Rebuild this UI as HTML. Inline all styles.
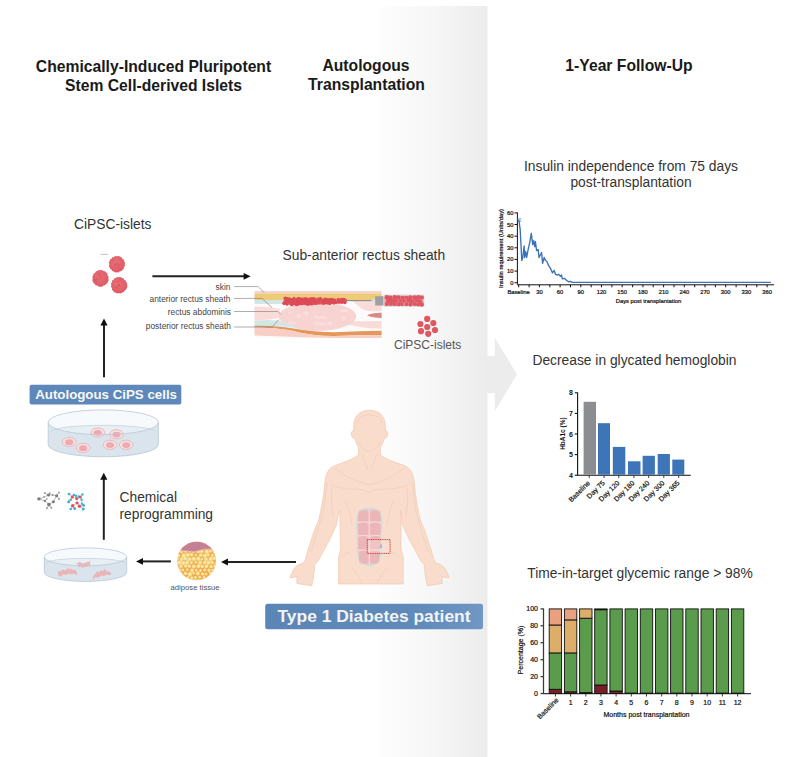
<!DOCTYPE html>
<html><head><meta charset="utf-8"><style>
html,body{margin:0;padding:0;background:#fff;width:807px;height:757px;overflow:hidden}
svg{display:block;font-family:"Liberation Sans", sans-serif}
</style></head><body>
<svg width="807" height="757" viewBox="0 0 807 757">
<defs>
<linearGradient id="bg" x1="0" x2="1" y1="0" y2="0">
<stop offset="0" stop-color="#fdfdfd"/>
<stop offset="0.4" stop-color="#f8f8f8"/>
<stop offset="1" stop-color="#ececec"/>
</linearGradient>
</defs>
<rect x="0" y="0" width="807" height="757" fill="#fff"/>
<rect x="380" y="6" width="107.5" height="751" fill="url(#bg)"/>
<path d="M487 356 H494.8 V337.8 L517 374.4 L494.8 411.2 V393 H487 Z" fill="#ececec"/>

<g font-weight="bold" font-size="15.7" fill="#1a1a1a" text-anchor="middle">
<text x="153.5" y="72.3">Chemically-Induced Pluripotent</text>
<text x="153.5" y="91">Stem Cell-derived Islets</text>
<text x="366" y="71.2">Autologous</text>
<text x="366.5" y="90">Transplantation</text>
<text x="629" y="71.2">1-Year Follow-Up</text>
</g>
<g font-size="13.8" fill="#333" text-anchor="middle">
<text x="631" y="171.4">Insulin independence from 75 days</text>
<text x="631" y="187.3">post-transplantation</text>
<text x="634.5" y="365">Decrease in glycated hemoglobin</text>
<text x="640" y="578">Time-in-target glycemic range &gt; 98%</text>
</g>
<g font-size="13.8" fill="#333">
<text x="74" y="229.1">CiPSC-islets</text>
<text x="282.5" y="260">Sub-anterior rectus sheath</text>
<text x="119.5" y="502.3">Chemical</text>
<text x="119.5" y="519">reprogramming</text>
</g>
<text x="394" y="348.8" font-size="12" fill="#555">CiPSC-islets</text>
<text x="170.5" y="590.3" font-size="7.7" fill="#555">adipose tissue</text>
<g font-size="8.4" fill="#444" text-anchor="end">
<text x="230.5" y="289.5">skin</text>
<text x="230.5" y="301.6">anterior rectus sheath</text>
<text x="231" y="314.5">rectus abdominis</text>
<text x="231" y="329.4">posterior rectus sheath</text>
</g>
<defs><linearGradient id="bx" x1="0" x2="1" y1="0" y2="0"><stop offset="0" stop-color="#5a86b7"/><stop offset="0.7" stop-color="#5f8aba"/><stop offset="1" stop-color="#7197c3"/></linearGradient></defs>
<rect x="29.6" y="384.8" width="151.7" height="19.8" rx="2" fill="#5d88b9"/>
<text x="106.1" y="399" font-size="13.3" font-weight="bold" fill="#f8f8f8" text-anchor="middle">Autologous CiPS cells</text>
<rect x="265.2" y="603.8" width="217.8" height="25.5" rx="2.5" fill="url(#bx)"/>
<text x="374" y="621.9" font-size="17.4" font-weight="bold" fill="#f4f4f4" text-anchor="middle">Type 1 Diabetes patient</text>
<line x1="104" y1="377.2" x2="104" y2="324.4" stroke="#222" stroke-width="2"/>
<path d="M104 318.4 L107.6 325.4 L100.4 325.4 Z" fill="#111"/>
<line x1="103.8" y1="539.8" x2="103.8" y2="478.8" stroke="#222" stroke-width="2"/>
<path d="M103.8 472.8 L107.39999999999999 479.8 L100.2 479.8 Z" fill="#111"/>
<line x1="152.4" y1="276.3" x2="244.6" y2="276.3" stroke="#222" stroke-width="2"/>
<path d="M250.6 276.3 L243.6 272.90000000000003 L243.6 279.7 Z" fill="#111"/>
<line x1="170.9" y1="561.4" x2="142" y2="561.4" stroke="#222" stroke-width="2"/>
<path d="M136 561.4 L143 558.0 L143 564.8 Z" fill="#111"/>
<line x1="296" y1="562" x2="227" y2="562" stroke="#222" stroke-width="2"/>
<path d="M221 562 L228 558.6 L228 565.4 Z" fill="#111"/>
<defs><radialGradient id="isl" cx="0.45" cy="0.42" r="0.6"><stop offset="0" stop-color="#e9727a"/><stop offset="1" stop-color="#dd5862"/></radialGradient></defs>
<path d="M124.66 264.20 Q125.73 265.96 123.94 267.12 Q124.39 269.20 122.57 269.87 Q121.90 271.69 119.79 271.19 Q118.66 273.03 116.90 272.13 Q115.14 273.03 113.92 271.40 Q111.90 271.69 111.56 269.54 Q109.41 269.20 109.60 267.23 Q108.07 265.96 109.37 264.20 Q108.07 262.44 109.65 261.20 Q109.41 259.20 111.55 258.85 Q111.90 256.71 114.00 257.20 Q115.14 255.37 116.90 256.36 Q118.66 255.37 120.02 256.66 Q121.90 256.71 122.28 258.82 Q124.39 259.20 124.00 261.26 Q125.73 262.44 124.66 264.20Z" fill="url(#isl)"/>
<circle cx="112.9" cy="260.1" r="0.9" fill="#d8505a" opacity="0.5"/>
<circle cx="112.2" cy="267.7" r="0.6" fill="#d8505a" opacity="0.5"/>
<circle cx="118.0" cy="262.9" r="0.7" fill="#d8505a" opacity="0.5"/>
<circle cx="118.3" cy="265.4" r="1.1" fill="#d8505a" opacity="0.5"/>
<circle cx="118.4" cy="267.4" r="1.0" fill="#d8505a" opacity="0.5"/>
<circle cx="114.6" cy="266.6" r="0.6" fill="#d8505a" opacity="0.5"/>
<circle cx="118.1" cy="264.7" r="1.0" fill="#d8505a" opacity="0.5"/>
<circle cx="115.2" cy="265.0" r="1.0" fill="#d8505a" opacity="0.5"/>
<circle cx="115.2" cy="264.7" r="1.1" fill="#d8505a" opacity="0.5"/>
<circle cx="116.4" cy="262.8" r="0.9" fill="#d8505a" opacity="0.5"/>
<path d="M108.32 278.40 Q109.23 280.16 107.97 281.54 Q107.89 283.40 106.11 284.11 Q105.40 285.89 103.36 285.54 Q102.16 287.23 100.40 286.68 Q98.64 287.23 97.49 285.42 Q95.40 285.89 94.86 283.94 Q92.91 283.40 92.91 281.50 Q91.57 280.16 92.77 278.40 Q91.57 276.64 93.11 275.38 Q92.91 273.40 95.07 273.07 Q95.40 270.91 97.33 270.98 Q98.64 269.57 100.40 270.29 Q102.16 269.57 103.45 271.05 Q105.40 270.91 106.20 272.60 Q107.89 273.40 107.56 275.43 Q109.23 276.64 108.32 278.40Z" fill="url(#isl)"/>
<circle cx="99.2" cy="275.0" r="0.9" fill="#d8505a" opacity="0.5"/>
<circle cx="95.5" cy="279.8" r="1.2" fill="#d8505a" opacity="0.5"/>
<circle cx="96.5" cy="279.0" r="0.6" fill="#d8505a" opacity="0.5"/>
<circle cx="99.2" cy="274.7" r="1.2" fill="#d8505a" opacity="0.5"/>
<circle cx="101.1" cy="276.9" r="0.8" fill="#d8505a" opacity="0.5"/>
<circle cx="100.3" cy="278.3" r="0.9" fill="#d8505a" opacity="0.5"/>
<circle cx="100.7" cy="279.0" r="0.6" fill="#d8505a" opacity="0.5"/>
<circle cx="100.5" cy="277.6" r="0.7" fill="#d8505a" opacity="0.5"/>
<circle cx="96.4" cy="281.7" r="0.6" fill="#d8505a" opacity="0.5"/>
<circle cx="97.3" cy="279.4" r="1.1" fill="#d8505a" opacity="0.5"/>
<path d="M127.15 285.20 Q127.83 286.96 126.56 288.33 Q126.49 290.20 124.46 290.66 Q124.00 292.69 122.00 292.44 Q120.76 294.03 119.00 292.99 Q117.24 294.03 115.86 292.78 Q114.00 292.69 113.16 291.04 Q111.51 290.20 111.96 288.12 Q110.17 286.96 111.36 285.20 Q110.17 283.44 111.90 282.26 Q111.51 280.20 113.56 279.76 Q114.00 277.71 115.98 277.91 Q117.24 276.37 119.00 277.23 Q120.76 276.37 121.95 278.07 Q124.00 277.71 124.31 279.89 Q126.49 280.20 126.24 282.20 Q127.83 283.44 127.15 285.20Z" fill="url(#isl)"/>
<circle cx="116.7" cy="287.7" r="1.2" fill="#d8505a" opacity="0.5"/>
<circle cx="117.9" cy="282.3" r="1.0" fill="#d8505a" opacity="0.5"/>
<circle cx="118.9" cy="284.9" r="1.1" fill="#d8505a" opacity="0.5"/>
<circle cx="120.0" cy="280.0" r="1.1" fill="#d8505a" opacity="0.5"/>
<circle cx="117.1" cy="286.7" r="0.7" fill="#d8505a" opacity="0.5"/>
<circle cx="118.8" cy="284.9" r="0.6" fill="#d8505a" opacity="0.5"/>
<circle cx="119.2" cy="286.1" r="0.8" fill="#d8505a" opacity="0.5"/>
<circle cx="119.0" cy="285.2" r="0.7" fill="#d8505a" opacity="0.5"/>
<circle cx="120.8" cy="286.5" r="0.6" fill="#d8505a" opacity="0.5"/>
<circle cx="121.6" cy="282.6" r="0.7" fill="#d8505a" opacity="0.5"/>
<line x1="100.5" y1="254.4" x2="108" y2="254.4" stroke="#999" stroke-width="0.6"/>
<circle cx="427.2" cy="318.9" r="3.1" fill="#e0585f"/>
<circle cx="420.4" cy="324" r="3.1" fill="#e0585f"/>
<circle cx="433.3" cy="323" r="3.1" fill="#e0585f"/>
<circle cx="421" cy="331.2" r="3.1" fill="#e0585f"/>
<circle cx="435" cy="330" r="3.1" fill="#e0585f"/>
<circle cx="428.2" cy="333.8" r="3.1" fill="#e0585f"/>
<circle cx="427.2" cy="327" r="3.1" fill="#e0585f"/>
<path d="M48.15 422.3 A55.1 12.4 0 0 1 158.35 422.3 V444.4 A55.1 12.4 0 0 1 48.15 444.4 Z" fill="#f7fafc"/>
<path d="M48.15 435.51 L51.25 431.7 A52 6.4 0 0 1 155.25 431.7 L158.35 435.51 V444.4 A55.1 12.4 0 0 1 48.15 444.4 Z" fill="#e7eff5"/>
<path d="M48.15 422.3 A55.1 12.4 0 0 0 158.35 422.3 V444.4 A55.1 12.4 0 0 1 48.15 444.4 Z" fill="#d9e4ed"/>
<path d="M51.25 431.7 A52 6.4 0 0 1 155.25 431.7" fill="none" stroke="#c0cfdb" stroke-width="0.7"/>
<ellipse cx="97.8" cy="432.5" rx="6.9" ry="4.6" fill="#f6e0e2" stroke="#ebb4b9" stroke-width="0.9"/><ellipse cx="97.8" cy="432.8" rx="4.1" ry="2.9" fill="#eeaab0"/><ellipse cx="116.5" cy="434.3" rx="6.9" ry="4.6" fill="#f6e0e2" stroke="#ebb4b9" stroke-width="0.9"/><ellipse cx="116.5" cy="434.6" rx="4.1" ry="2.9" fill="#eeaab0"/><ellipse cx="69.2" cy="441.9" rx="6.9" ry="4.6" fill="#f6e0e2" stroke="#ebb4b9" stroke-width="0.9"/><ellipse cx="69.2" cy="442.2" rx="4.1" ry="2.9" fill="#eeaab0"/><ellipse cx="83.1" cy="447.9" rx="6.9" ry="4.6" fill="#f6e0e2" stroke="#ebb4b9" stroke-width="0.9"/><ellipse cx="83.1" cy="448.2" rx="4.1" ry="2.9" fill="#eeaab0"/><ellipse cx="110" cy="444.8" rx="6.9" ry="4.6" fill="#f6e0e2" stroke="#ebb4b9" stroke-width="0.9"/><ellipse cx="110" cy="445.1" rx="4.1" ry="2.9" fill="#eeaab0"/><ellipse cx="126.2" cy="444.8" rx="6.9" ry="4.6" fill="#f6e0e2" stroke="#ebb4b9" stroke-width="0.9"/><ellipse cx="126.2" cy="445.1" rx="4.1" ry="2.9" fill="#eeaab0"/>
<ellipse cx="103.25" cy="422.3" rx="55.1" ry="12.4" fill="none" stroke="#b9c8d5" stroke-width="0.8"/>
<path d="M48.15 422.3 V444.4 A55.1 12.4 0 0 0 158.35 444.4 V422.3" fill="none" stroke="#b9c8d5" stroke-width="0.8"/>
<path d="M44.3 556.9 A41.2 9.0 0 0 1 126.7 556.9 V572.4 A41.2 9.0 0 0 1 44.3 572.4 Z" fill="#f7fafc"/>
<path d="M44.3 565.96 L46.0 563.2 A39.5 4.8 0 0 1 125.0 563.2 L126.7 565.96 V572.4 A41.2 9.0 0 0 1 44.3 572.4 Z" fill="#e7eff5"/>
<path d="M44.3 556.9 A41.2 9.0 0 0 0 126.7 556.9 V572.4 A41.2 9.0 0 0 1 44.3 572.4 Z" fill="#d9e4ed"/>
<path d="M46.0 563.2 A39.5 4.8 0 0 1 125.0 563.2" fill="none" stroke="#c0cfdb" stroke-width="0.7"/>
<path d="M75.6 562.4 L78 563.2 L80 561.5 L81 563 L84 563.4 L86 562.3 L88 562 L90.5 560.8 L89.8 563.5 L91.2 565.8 L88.5 565.6 L86 567.2 L84.5 566 L82.5 568.8 L81.2 566.2 L79 567.5 L78.2 565.5 Z" fill="#eeabad" opacity="0.85"/><path d="M57.8 571.8 L61 571 L63 569.4 L64.5 570.6 L67 569.6 L68.3 567.2 L69.5 569.6 L71.5 568.5 L72.5 570 L75.5 569.8 L77.8 575.2 L74 573.6 L71 574.2 L68 573.4 L66 575 L63 574.2 L61.5 576.6 L58.3 575.8 Z" fill="#eeabad" opacity="0.85"/><path d="M92.2 579.8 L93.6 575.5 L96 573.2 L97.5 571 L99 572.4 L101 570.2 L103.2 571.3 L104.6 568.6 L106 571 L108.5 571.4 L111.4 573.2 L110 575.2 L107 574.6 L104 576 L101.2 575.4 L98.4 577.5 L95.5 577.2 Z" fill="#eeabad" opacity="0.85"/>
<ellipse cx="85.5" cy="556.9" rx="41.2" ry="9.0" fill="none" stroke="#b9c8d5" stroke-width="0.8"/>
<path d="M44.3 556.9 V572.4 A41.2 9.0 0 0 0 126.7 572.4 V556.9" fill="none" stroke="#b9c8d5" stroke-width="0.8"/>
<line x1="38.9" y1="498.9" x2="44.1" y2="496.9" stroke="#999" stroke-width="0.7"/><line x1="38.9" y1="498.9" x2="44.9" y2="500.9" stroke="#999" stroke-width="0.7"/><line x1="44.1" y1="496.9" x2="48.5" y2="494.9" stroke="#999" stroke-width="0.7"/><line x1="48.5" y1="494.9" x2="44.9" y2="492.9" stroke="#999" stroke-width="0.7"/><line x1="48.5" y1="494.9" x2="49.7" y2="493.3" stroke="#999" stroke-width="0.7"/><line x1="48.5" y1="494.9" x2="52.6" y2="494.9" stroke="#999" stroke-width="0.7"/><line x1="52.6" y1="494.9" x2="56.6" y2="495.7" stroke="#999" stroke-width="0.7"/><line x1="56.6" y1="495.7" x2="59" y2="492.5" stroke="#999" stroke-width="0.7"/><line x1="56.6" y1="495.7" x2="59" y2="498.9" stroke="#999" stroke-width="0.7"/><line x1="56.6" y1="495.7" x2="53.4" y2="501.7" stroke="#999" stroke-width="0.7"/><line x1="53.4" y1="501.7" x2="48.9" y2="504.6" stroke="#999" stroke-width="0.7"/><line x1="48.9" y1="504.6" x2="44.9" y2="500.9" stroke="#999" stroke-width="0.7"/><line x1="48.9" y1="504.6" x2="46.9" y2="508.2" stroke="#999" stroke-width="0.7"/><line x1="48.9" y1="504.6" x2="51.3" y2="507.8" stroke="#999" stroke-width="0.7"/><line x1="44.9" y1="500.9" x2="46.9" y2="498.9" stroke="#999" stroke-width="0.7"/><circle cx="38.9" cy="498.9" r="1.7" fill="#7a7a7a"/><circle cx="44.9" cy="492.9" r="1.0" fill="#9a9a9a"/><circle cx="44.1" cy="496.9" r="0.9" fill="#9a9a9a"/><circle cx="44.9" cy="500.9" r="1.1" fill="#7a7a7a"/><circle cx="48.5" cy="494.9" r="1.5" fill="#7a7a7a"/><circle cx="49.7" cy="493.3" r="1.0" fill="#9a9a9a"/><circle cx="46.9" cy="498.9" r="0.8" fill="#9a9a9a"/><circle cx="52.6" cy="494.9" r="1.0" fill="#9a9a9a"/><circle cx="56.6" cy="495.7" r="1.5" fill="#7a7a7a"/><circle cx="59" cy="492.5" r="1.0" fill="#9a9a9a"/><circle cx="59" cy="498.9" r="1.0" fill="#9a9a9a"/><circle cx="53.4" cy="501.7" r="1.5" fill="#7a7a7a"/><circle cx="48.9" cy="504.6" r="1.8" fill="#7a7a7a"/><circle cx="46.9" cy="508.2" r="1.0" fill="#9a9a9a"/><circle cx="51.3" cy="507.8" r="1.0" fill="#9a9a9a"/>
<line x1="72.3" y1="496.9" x2="76.7" y2="498.5" stroke="#bbb" stroke-width="0.7"/><line x1="76.7" y1="498.5" x2="80.3" y2="496.9" stroke="#bbb" stroke-width="0.7"/><line x1="76.7" y1="498.5" x2="77.1" y2="503" stroke="#bbb" stroke-width="0.7"/><line x1="77.1" y1="503" x2="72.7" y2="505.8" stroke="#bbb" stroke-width="0.7"/><line x1="77.1" y1="503" x2="79.5" y2="506.2" stroke="#bbb" stroke-width="0.7"/><line x1="72.3" y1="496.9" x2="70.7" y2="499.7" stroke="#bbb" stroke-width="0.7"/><line x1="70.7" y1="499.7" x2="68.7" y2="501.7" stroke="#bbb" stroke-width="0.7"/><line x1="72.7" y1="505.8" x2="74.7" y2="508.6" stroke="#bbb" stroke-width="0.7"/><line x1="72.7" y1="505.8" x2="70.7" y2="509" stroke="#bbb" stroke-width="0.7"/><line x1="79.5" y1="506.2" x2="83.2" y2="509" stroke="#bbb" stroke-width="0.7"/><line x1="79.5" y1="506.2" x2="83.6" y2="505.4" stroke="#bbb" stroke-width="0.7"/><line x1="80.3" y1="496.9" x2="81.6" y2="499.7" stroke="#bbb" stroke-width="0.7"/><line x1="81.6" y1="499.7" x2="82" y2="503.8" stroke="#bbb" stroke-width="0.7"/><line x1="80.3" y1="496.9" x2="82.4" y2="494.5" stroke="#bbb" stroke-width="0.7"/><line x1="72.3" y1="496.9" x2="69.1" y2="494.1" stroke="#bbb" stroke-width="0.7"/><line x1="76.7" y1="498.5" x2="75.9" y2="495.7" stroke="#bbb" stroke-width="0.7"/><line x1="75.9" y1="495.7" x2="73.9" y2="494.9" stroke="#bbb" stroke-width="0.7"/><line x1="80.3" y1="496.9" x2="78.7" y2="496.5" stroke="#bbb" stroke-width="0.7"/><circle cx="69.1" cy="494.1" r="1.4" fill="#3cb0d9"/><circle cx="73.9" cy="494.9" r="1.2" fill="#3cb0d9"/><circle cx="78.7" cy="496.5" r="1.2" fill="#3cb0d9"/><circle cx="82.4" cy="494.5" r="1.2" fill="#3cb0d9"/><circle cx="70.7" cy="499.7" r="1.3" fill="#3cb0d9"/><circle cx="68.7" cy="501.7" r="1.5" fill="#3cb0d9"/><circle cx="81.6" cy="499.7" r="1.2" fill="#3cb0d9"/><circle cx="82" cy="503.8" r="1.2" fill="#3cb0d9"/><circle cx="83.6" cy="505.4" r="1.4" fill="#3cb0d9"/><circle cx="83.2" cy="509" r="1.5" fill="#3cb0d9"/><circle cx="74.7" cy="508.6" r="1.5" fill="#3cb0d9"/><circle cx="70.7" cy="509" r="1.3" fill="#3cb0d9"/><circle cx="75.9" cy="495.7" r="1.2" fill="#3cb0d9"/><circle cx="72.3" cy="496.9" r="1.6" fill="#e0525a"/><circle cx="76.7" cy="498.5" r="1.6" fill="#e0525a"/><circle cx="80.3" cy="496.9" r="1.5" fill="#e0525a"/><circle cx="77.1" cy="503" r="1.6" fill="#e0525a"/><circle cx="72.7" cy="505.8" r="1.8" fill="#e0525a"/><circle cx="79.5" cy="506.2" r="1.7" fill="#e0525a"/>
<defs><clipPath id="adc"><circle cx="196.6" cy="561" r="19.3"/></clipPath><radialGradient id="fatd"><stop offset="0" stop-color="#fbeeb0"/><stop offset="0.5" stop-color="#f8e29a"/><stop offset="1" stop-color="#f6dc8c" stop-opacity="0"/></radialGradient></defs>
<circle cx="196.6" cy="561" r="19.3" fill="#eeac4f"/>
<g clip-path="url(#adc)">
<circle cx="176.8" cy="551.4" r="1.9" fill="url(#fatd)"/>
<circle cx="181.5" cy="552.0" r="1.8" fill="url(#fatd)"/>
<circle cx="185.4" cy="551.1" r="2.2" fill="url(#fatd)"/>
<circle cx="189.4" cy="551.3" r="1.7" fill="url(#fatd)"/>
<circle cx="193.5" cy="551.0" r="2.7" fill="url(#fatd)"/>
<circle cx="198.0" cy="551.1" r="2.8" fill="url(#fatd)"/>
<circle cx="201.7" cy="551.5" r="2.3" fill="url(#fatd)"/>
<circle cx="206.8" cy="551.7" r="2.9" fill="url(#fatd)"/>
<circle cx="210.5" cy="551.2" r="1.9" fill="url(#fatd)"/>
<circle cx="214.8" cy="551.8" r="2.6" fill="url(#fatd)"/>
<circle cx="178.8" cy="555.5" r="2.0" fill="url(#fatd)"/>
<circle cx="183.7" cy="555.5" r="2.9" fill="url(#fatd)"/>
<circle cx="187.7" cy="554.9" r="2.7" fill="url(#fatd)"/>
<circle cx="191.6" cy="554.7" r="2.3" fill="url(#fatd)"/>
<circle cx="195.7" cy="555.0" r="1.6" fill="url(#fatd)"/>
<circle cx="200.6" cy="555.1" r="2.5" fill="url(#fatd)"/>
<circle cx="204.8" cy="555.7" r="2.8" fill="url(#fatd)"/>
<circle cx="208.2" cy="554.9" r="2.1" fill="url(#fatd)"/>
<circle cx="212.4" cy="555.3" r="1.9" fill="url(#fatd)"/>
<circle cx="217.2" cy="555.2" r="2.8" fill="url(#fatd)"/>
<circle cx="177.3" cy="558.5" r="2.4" fill="url(#fatd)"/>
<circle cx="181.6" cy="559.2" r="2.5" fill="url(#fatd)"/>
<circle cx="185.4" cy="558.6" r="2.6" fill="url(#fatd)"/>
<circle cx="189.4" cy="559.2" r="2.6" fill="url(#fatd)"/>
<circle cx="193.7" cy="558.8" r="2.9" fill="url(#fatd)"/>
<circle cx="198.2" cy="558.6" r="2.8" fill="url(#fatd)"/>
<circle cx="201.9" cy="559.3" r="1.8" fill="url(#fatd)"/>
<circle cx="206.0" cy="559.2" r="2.6" fill="url(#fatd)"/>
<circle cx="210.8" cy="558.8" r="2.9" fill="url(#fatd)"/>
<circle cx="214.4" cy="558.4" r="2.3" fill="url(#fatd)"/>
<circle cx="179.2" cy="562.6" r="2.9" fill="url(#fatd)"/>
<circle cx="183.2" cy="563.0" r="2.8" fill="url(#fatd)"/>
<circle cx="187.2" cy="562.4" r="2.7" fill="url(#fatd)"/>
<circle cx="191.4" cy="562.7" r="2.0" fill="url(#fatd)"/>
<circle cx="195.8" cy="562.2" r="1.9" fill="url(#fatd)"/>
<circle cx="200.0" cy="562.6" r="2.8" fill="url(#fatd)"/>
<circle cx="204.7" cy="562.5" r="2.4" fill="url(#fatd)"/>
<circle cx="208.5" cy="562.6" r="2.8" fill="url(#fatd)"/>
<circle cx="212.2" cy="562.5" r="2.3" fill="url(#fatd)"/>
<circle cx="216.4" cy="562.9" r="1.8" fill="url(#fatd)"/>
<circle cx="177.0" cy="566.5" r="1.8" fill="url(#fatd)"/>
<circle cx="181.0" cy="566.3" r="2.3" fill="url(#fatd)"/>
<circle cx="185.7" cy="565.9" r="2.3" fill="url(#fatd)"/>
<circle cx="189.3" cy="566.1" r="2.3" fill="url(#fatd)"/>
<circle cx="193.8" cy="566.4" r="2.6" fill="url(#fatd)"/>
<circle cx="198.4" cy="566.2" r="2.6" fill="url(#fatd)"/>
<circle cx="202.2" cy="566.3" r="2.4" fill="url(#fatd)"/>
<circle cx="206.4" cy="566.3" r="2.5" fill="url(#fatd)"/>
<circle cx="211.0" cy="566.5" r="2.2" fill="url(#fatd)"/>
<circle cx="215.2" cy="566.1" r="2.7" fill="url(#fatd)"/>
<circle cx="179.5" cy="570.3" r="2.3" fill="url(#fatd)"/>
<circle cx="182.9" cy="569.9" r="1.8" fill="url(#fatd)"/>
<circle cx="187.2" cy="569.6" r="1.7" fill="url(#fatd)"/>
<circle cx="192.0" cy="570.4" r="2.5" fill="url(#fatd)"/>
<circle cx="196.1" cy="570.2" r="1.8" fill="url(#fatd)"/>
<circle cx="200.5" cy="570.5" r="1.8" fill="url(#fatd)"/>
<circle cx="204.8" cy="569.9" r="1.9" fill="url(#fatd)"/>
<circle cx="209.0" cy="570.3" r="2.2" fill="url(#fatd)"/>
<circle cx="212.6" cy="570.0" r="1.8" fill="url(#fatd)"/>
<circle cx="216.6" cy="569.8" r="2.0" fill="url(#fatd)"/>
<circle cx="176.5" cy="573.8" r="2.5" fill="url(#fatd)"/>
<circle cx="180.7" cy="573.5" r="2.2" fill="url(#fatd)"/>
<circle cx="185.4" cy="573.3" r="2.4" fill="url(#fatd)"/>
<circle cx="189.9" cy="574.2" r="2.9" fill="url(#fatd)"/>
<circle cx="193.6" cy="573.2" r="1.7" fill="url(#fatd)"/>
<circle cx="197.8" cy="573.3" r="2.6" fill="url(#fatd)"/>
<circle cx="202.6" cy="574.0" r="2.1" fill="url(#fatd)"/>
<circle cx="206.0" cy="574.1" r="1.9" fill="url(#fatd)"/>
<circle cx="210.8" cy="573.3" r="2.3" fill="url(#fatd)"/>
<circle cx="215.0" cy="573.6" r="1.7" fill="url(#fatd)"/>
<circle cx="179.5" cy="577.5" r="1.7" fill="url(#fatd)"/>
<circle cx="182.9" cy="577.8" r="2.6" fill="url(#fatd)"/>
<circle cx="187.9" cy="577.4" r="1.7" fill="url(#fatd)"/>
<circle cx="191.8" cy="577.8" r="2.0" fill="url(#fatd)"/>
<circle cx="195.5" cy="577.4" r="1.9" fill="url(#fatd)"/>
<circle cx="199.7" cy="577.1" r="1.9" fill="url(#fatd)"/>
<circle cx="204.0" cy="577.2" r="1.7" fill="url(#fatd)"/>
<circle cx="208.8" cy="577.2" r="2.0" fill="url(#fatd)"/>
<circle cx="212.4" cy="577.2" r="2.3" fill="url(#fatd)"/>
<circle cx="216.7" cy="576.9" r="1.6" fill="url(#fatd)"/>
<circle cx="177.1" cy="580.8" r="2.6" fill="url(#fatd)"/>
<circle cx="181.6" cy="580.7" r="2.2" fill="url(#fatd)"/>
<circle cx="185.3" cy="581.1" r="2.7" fill="url(#fatd)"/>
<circle cx="189.5" cy="581.1" r="2.7" fill="url(#fatd)"/>
<circle cx="194.3" cy="580.9" r="2.5" fill="url(#fatd)"/>
<circle cx="198.2" cy="581.2" r="2.7" fill="url(#fatd)"/>
<circle cx="202.0" cy="580.7" r="2.1" fill="url(#fatd)"/>
<circle cx="206.0" cy="581.3" r="1.8" fill="url(#fatd)"/>
<circle cx="210.3" cy="580.7" r="1.9" fill="url(#fatd)"/>
<circle cx="215.2" cy="581.3" r="2.7" fill="url(#fatd)"/>
<path d="M176 550.4 Q186 550.6 194 551.9 Q201 550 205 549.2 Q210 548.9 217 549.2 V540 H176 Z" fill="#c48196"/>
<path d="M176 550.4 Q186 550.6 194 551.9 Q201 550 205 549.2 Q210 548.9 217 549.2" fill="none" stroke="#f4b9a3" stroke-width="0.9"/>
</g>
<defs><clipPath id="shc"><rect x="254.3" y="290.8" width="127.5" height="47.5"/></clipPath></defs>
<g clip-path="url(#shc)">
<rect x="254.3" y="290.8" width="127.5" height="47.5" fill="#fdfafa"/>
<rect x="254.3" y="290.8" width="127.5" height="2.8" fill="#f7d5cf"/>
<rect x="254.3" y="293.5" width="127.5" height="6.6" fill="#eecb78"/>
<path d="M254.3 299.9 H290 Q285 302 283 304 H254.3 Z" fill="#d2e7e5"/>
<path d="M254.3 306.5 Q268 306 280 309 L279 318 Q268 320 254.3 320.5 Z" fill="#f9dcd8"/>
<path d="M352 300.5 H381.8 V311 Q372 312 364 310 Q358 306 352 300.5 Z" fill="#f9dcd8"/>
<path d="M342 322 Q360 321 381.8 321 V328.6 Q360 329 342 322.5 Z" fill="#f9dcd8"/>
<path d="M367 315.3 Q372 312.5 381.8 312.8 V318 Q372 318 367 315.3 Z" fill="#d98a83"/>
<ellipse cx="317.5" cy="316.5" rx="38.8" ry="14.3" fill="#f7d3d2"/>
<ellipse cx="305.5" cy="312.4" rx="2.9" ry="1.5" fill="#fae2e1" opacity="0.6"/>
<ellipse cx="298.7" cy="316.0" rx="2.8" ry="2.0" fill="#fae2e1" opacity="0.6"/>
<ellipse cx="343.5" cy="317.8" rx="2.7" ry="2.0" fill="#fae2e1" opacity="0.6"/>
<ellipse cx="307.0" cy="314.4" rx="2.0" ry="1.4" fill="#fae2e1" opacity="0.6"/>
<ellipse cx="316.1" cy="317.0" rx="2.6" ry="1.5" fill="#fae2e1" opacity="0.6"/>
<ellipse cx="290.3" cy="312.8" rx="2.3" ry="1.4" fill="#fae2e1" opacity="0.6"/>
<ellipse cx="292.3" cy="308.4" rx="2.9" ry="1.2" fill="#fae2e1" opacity="0.6"/>
<ellipse cx="322.2" cy="317.5" rx="4.3" ry="1.7" fill="#fae2e1" opacity="0.6"/>
<ellipse cx="329.4" cy="323.8" rx="3.2" ry="1.3" fill="#fae2e1" opacity="0.6"/>
<ellipse cx="344.2" cy="310.7" rx="4.2" ry="1.6" fill="#fae2e1" opacity="0.6"/>
<ellipse cx="292.4" cy="323.0" rx="4.7" ry="1.6" fill="#fae2e1" opacity="0.6"/>
<ellipse cx="330.4" cy="322.6" rx="2.4" ry="1.5" fill="#fae2e1" opacity="0.6"/>
<ellipse cx="317.7" cy="323.0" rx="4.4" ry="1.8" fill="#fae2e1" opacity="0.6"/>
<ellipse cx="322.1" cy="324.1" rx="4.0" ry="1.7" fill="#fae2e1" opacity="0.6"/>
<path d="M254.3 320.6 Q268 319.5 279 320.5 Q290 324 302 329 Q280 325.5 254.3 325.9 Z" fill="#d2e7e5"/>
<path d="M254.3 325.8 Q275 325 292 328.3 Q315 332.3 335 332.3 Q360 331 381.8 330.8 V335 Q360 335.2 335 336 Q312 336.3 290 330.2 Q272 327 254.3 327.5 Z" fill="#e5975a"/>
<path d="M254.3 327.5 Q272 327 290 330.2 Q312 336.3 335 336 Q360 335.2 381.8 335 V338 Q320 338.5 254.3 335.5 Z" fill="#f7cfc6"/>
</g>
<path d="M284 300 Q300 297.5 320 298.5 Q335 299 346 300 L345.5 302.5 Q335 304 320 304.5 Q300 305.5 285 304.5 Z" fill="#df5a64"/>
<circle cx="298.3" cy="298.3" r="1.3" fill="#dc4b57"/>
<circle cx="306.4" cy="298.9" r="1.7" fill="#dc4b57"/>
<circle cx="318.6" cy="301.9" r="1.6" fill="#dc4b57"/>
<circle cx="326.2" cy="301.0" r="1.2" fill="#dc4b57"/>
<circle cx="333.5" cy="302.2" r="1.5" fill="#dc4b57"/>
<circle cx="317.2" cy="302.1" r="1.2" fill="#dc4b57"/>
<circle cx="329.7" cy="299.9" r="1.2" fill="#dc4b57"/>
<circle cx="300.5" cy="302.8" r="1.3" fill="#dc4b57"/>
<circle cx="329.9" cy="303.4" r="1.5" fill="#dc4b57"/>
<circle cx="307.7" cy="301.1" r="1.6" fill="#dc4b57"/>
<circle cx="331.6" cy="301.6" r="1.6" fill="#dc4b57"/>
<circle cx="288.8" cy="299.0" r="1.4" fill="#dc4b57"/>
<circle cx="330.1" cy="300.1" r="1.5" fill="#dc4b57"/>
<circle cx="284.8" cy="298.3" r="1.4" fill="#dc4b57"/>
<circle cx="325.7" cy="302.1" r="1.6" fill="#dc4b57"/>
<circle cx="302.0" cy="301.4" r="1.5" fill="#dc4b57"/>
<circle cx="312.9" cy="299.0" r="1.7" fill="#dc4b57"/>
<circle cx="296.4" cy="304.5" r="1.8" fill="#dc4b57"/>
<circle cx="285.1" cy="301.2" r="1.7" fill="#dc4b57"/>
<circle cx="344.0" cy="300.7" r="1.4" fill="#dc4b57"/>
<circle cx="297.0" cy="304.3" r="1.3" fill="#dc4b57"/>
<circle cx="320.1" cy="299.2" r="1.5" fill="#dc4b57"/>
<circle cx="343.1" cy="299.4" r="1.7" fill="#dc4b57"/>
<circle cx="315.5" cy="303.4" r="1.6" fill="#dc4b57"/>
<circle cx="298.3" cy="303.9" r="1.5" fill="#dc4b57"/>
<circle cx="285.5" cy="298.0" r="1.5" fill="#dc4b57"/>
<circle cx="311.9" cy="300.1" r="1.3" fill="#dc4b57"/>
<circle cx="305.3" cy="300.2" r="1.7" fill="#dc4b57"/>
<circle cx="284.1" cy="303.3" r="1.7" fill="#dc4b57"/>
<circle cx="291.4" cy="304.3" r="1.6" fill="#dc4b57"/>
<circle cx="339.9" cy="300.1" r="1.4" fill="#dc4b57"/>
<circle cx="308.4" cy="304.2" r="1.6" fill="#dc4b57"/>
<circle cx="306.4" cy="300.8" r="1.4" fill="#dc4b57"/>
<circle cx="287.0" cy="298.7" r="1.7" fill="#dc4b57"/>
<circle cx="301.7" cy="304.1" r="1.3" fill="#dc4b57"/>
<circle cx="300.5" cy="301.4" r="1.3" fill="#dc4b57"/>
<circle cx="307.1" cy="304.0" r="1.7" fill="#dc4b57"/>
<circle cx="334.3" cy="301.6" r="1.7" fill="#dc4b57"/>
<circle cx="342.3" cy="301.1" r="1.6" fill="#dc4b57"/>
<circle cx="287.1" cy="303.1" r="1.5" fill="#dc4b57"/>
<circle cx="330.7" cy="301.7" r="1.4" fill="#dc4b57"/>
<circle cx="287.0" cy="304.5" r="1.3" fill="#dc4b57"/>
<circle cx="313.3" cy="300.3" r="1.4" fill="#dc4b57"/>
<circle cx="329.8" cy="303.4" r="1.4" fill="#dc4b57"/>
<circle cx="324.7" cy="300.1" r="1.5" fill="#dc4b57"/>
<circle cx="308.5" cy="299.3" r="1.3" fill="#dc4b57"/>
<circle cx="296.9" cy="304.0" r="1.5" fill="#dc4b57"/>
<circle cx="297.6" cy="304.0" r="1.8" fill="#dc4b57"/>
<circle cx="311.9" cy="299.2" r="1.3" fill="#dc4b57"/>
<circle cx="289.6" cy="300.4" r="1.3" fill="#dc4b57"/>
<circle cx="298.8" cy="299.8" r="1.5" fill="#dc4b57"/>
<circle cx="339.0" cy="302.1" r="1.4" fill="#dc4b57"/>
<circle cx="309.7" cy="301.4" r="1.4" fill="#dc4b57"/>
<circle cx="305.0" cy="298.6" r="1.4" fill="#dc4b57"/>
<circle cx="344.0" cy="299.4" r="1.5" fill="#dc4b57"/>
<circle cx="323.0" cy="303.0" r="1.3" fill="#dc4b57"/>
<circle cx="300.8" cy="299.7" r="1.4" fill="#dc4b57"/>
<circle cx="311.6" cy="303.9" r="1.7" fill="#dc4b57"/>
<circle cx="338.1" cy="298.9" r="1.2" fill="#dc4b57"/>
<circle cx="328.0" cy="303.0" r="1.5" fill="#dc4b57"/>
<circle cx="320.4" cy="298.5" r="1.4" fill="#dc4b57"/>
<circle cx="341.5" cy="302.3" r="1.7" fill="#dc4b57"/>
<circle cx="344.3" cy="299.9" r="1.3" fill="#dc4b57"/>
<circle cx="293.6" cy="301.6" r="1.6" fill="#dc4b57"/>
<circle cx="342.4" cy="301.9" r="1.6" fill="#dc4b57"/>
<circle cx="331.4" cy="300.8" r="1.5" fill="#dc4b57"/>
<circle cx="286.5" cy="303.5" r="1.3" fill="#dc4b57"/>
<circle cx="341.0" cy="301.6" r="1.4" fill="#dc4b57"/>
<circle cx="291.9" cy="299.7" r="1.6" fill="#dc4b57"/>
<circle cx="327.3" cy="299.2" r="1.2" fill="#dc4b57"/>
<circle cx="316.5" cy="301.6" r="1.4" fill="#dc4b57"/>
<circle cx="297.9" cy="302.0" r="1.2" fill="#dc4b57"/>
<circle cx="302.7" cy="301.1" r="1.8" fill="#dc4b57"/>
<circle cx="324.0" cy="303.1" r="1.5" fill="#dc4b57"/>
<circle cx="298.6" cy="299.7" r="1.8" fill="#dc4b57"/>
<circle cx="327.7" cy="300.1" r="1.2" fill="#dc4b57"/>
<circle cx="314.9" cy="302.2" r="1.5" fill="#dc4b57"/>
<circle cx="299.9" cy="302.4" r="1.8" fill="#dc4b57"/>
<circle cx="298.1" cy="298.3" r="1.4" fill="#dc4b57"/>
<circle cx="310.1" cy="302.3" r="1.3" fill="#dc4b57"/>
<circle cx="333.4" cy="302.1" r="1.5" fill="#dc4b57"/>
<circle cx="296.7" cy="304.5" r="1.4" fill="#dc4b57"/>
<circle cx="334.8" cy="299.8" r="1.3" fill="#dc4b57"/>
<circle cx="331.1" cy="300.1" r="1.8" fill="#dc4b57"/>
<circle cx="314.7" cy="299.4" r="1.3" fill="#dc4b57"/>
<circle cx="309.9" cy="302.2" r="1.8" fill="#dc4b57"/>
<circle cx="293.1" cy="300.7" r="1.3" fill="#dc4b57"/>
<circle cx="344.4" cy="299.5" r="1.2" fill="#dc4b57"/>
<circle cx="287.7" cy="300.7" r="1.7" fill="#dc4b57"/>
<circle cx="338.8" cy="302.0" r="1.8" fill="#dc4b57"/>
<circle cx="341.8" cy="300.2" r="1.3" fill="#dc4b57"/>
<circle cx="342.0" cy="302.0" r="1.2" fill="#dc4b57"/>
<circle cx="325.2" cy="300.5" r="1.4" fill="#dc4b57"/>
<circle cx="304.6" cy="299.3" r="1.2" fill="#dc4b57"/>
<circle cx="301.3" cy="300.4" r="1.8" fill="#dc4b57"/>
<circle cx="291.7" cy="304.6" r="1.3" fill="#dc4b57"/>
<circle cx="306.1" cy="303.2" r="1.7" fill="#dc4b57"/>
<circle cx="310.8" cy="298.6" r="1.5" fill="#dc4b57"/>
<circle cx="307.1" cy="303.8" r="1.3" fill="#dc4b57"/>
<circle cx="306.6" cy="303.7" r="1.2" fill="#dc4b57"/>
<circle cx="309.5" cy="303.1" r="1.7" fill="#dc4b57"/>
<circle cx="286.5" cy="298.2" r="1.2" fill="#dc4b57"/>
<circle cx="341.0" cy="299.9" r="1.6" fill="#dc4b57"/>
<circle cx="339.7" cy="300.3" r="1.4" fill="#dc4b57"/>
<circle cx="343.4" cy="301.4" r="1.4" fill="#dc4b57"/>
<circle cx="328.4" cy="300.2" r="1.4" fill="#dc4b57"/>
<circle cx="284.2" cy="303.3" r="1.7" fill="#dc4b57"/>
<circle cx="323.3" cy="303.4" r="1.2" fill="#dc4b57"/>
<circle cx="298.5" cy="301.2" r="1.8" fill="#dc4b57"/>
<circle cx="343.1" cy="300.5" r="1.4" fill="#dc4b57"/>
<circle cx="310.7" cy="301.2" r="1.8" fill="#dc4b57"/>
<circle cx="295.3" cy="303.4" r="1.6" fill="#dc4b57"/>
<circle cx="335.0" cy="302.3" r="1.6" fill="#dc4b57"/>
<circle cx="304.3" cy="300.2" r="1.4" fill="#dc4b57"/>
<circle cx="332.5" cy="299.1" r="1.3" fill="#dc4b57"/>
<circle cx="330.7" cy="299.8" r="1.2" fill="#dc4b57"/>
<circle cx="286.1" cy="301.9" r="1.4" fill="#dc4b57"/>
<circle cx="344.8" cy="302.5" r="1.8" fill="#dc4b57"/>
<circle cx="300.4" cy="298.7" r="1.3" fill="#dc4b57"/>
<circle cx="314.9" cy="302.4" r="1.5" fill="#dc4b57"/>
<circle cx="298.5" cy="300.8" r="1.6" fill="#dc4b57"/>
<circle cx="325.8" cy="302.3" r="1.7" fill="#dc4b57"/>
<circle cx="325.2" cy="299.2" r="1.7" fill="#dc4b57"/>
<circle cx="302.2" cy="301.7" r="1.4" fill="#dc4b57"/>
<circle cx="329.8" cy="299.6" r="1.3" fill="#dc4b57"/>
<circle cx="299.2" cy="299.1" r="1.7" fill="#dc4b57"/>
<circle cx="319.9" cy="300.2" r="1.4" fill="#dc4b57"/>
<circle cx="345.5" cy="300.9" r="1.3" fill="#dc4b57"/>
<circle cx="334.1" cy="301.7" r="1.8" fill="#dc4b57"/>
<circle cx="290.3" cy="301.3" r="1.7" fill="#dc4b57"/>
<circle cx="336.1" cy="302.9" r="1.2" fill="#dc4b57"/>
<circle cx="302.2" cy="298.9" r="1.3" fill="#dc4b57"/>
<circle cx="344.3" cy="301.3" r="1.8" fill="#dc4b57"/>
<circle cx="307.1" cy="303.5" r="1.5" fill="#dc4b57"/>
<circle cx="300.1" cy="303.1" r="1.8" fill="#dc4b57"/>
<circle cx="290.6" cy="302.1" r="1.6" fill="#dc4b57"/>
<circle cx="297.5" cy="300.5" r="1.3" fill="#dc4b57"/>
<circle cx="296.6" cy="299.8" r="1.6" fill="#dc4b57"/>
<circle cx="324.4" cy="299.6" r="1.2" fill="#dc4b57"/>
<circle cx="304.3" cy="302.4" r="1.3" fill="#dc4b57"/>
<circle cx="303.4" cy="299.5" r="1.7" fill="#dc4b57"/>
<circle cx="318.0" cy="298.8" r="1.3" fill="#dc4b57"/>
<circle cx="308.5" cy="301.6" r="1.6" fill="#dc4b57"/>
<circle cx="289.7" cy="299.1" r="1.6" fill="#dc4b57"/>
<circle cx="309.4" cy="300.0" r="1.4" fill="#dc4b57"/>
<circle cx="343.1" cy="300.1" r="1.5" fill="#dc4b57"/>
<circle cx="306.1" cy="300.8" r="1.7" fill="#dc4b57"/>
<circle cx="345.8" cy="300.4" r="1.3" fill="#dc4b57"/>
<circle cx="329.1" cy="299.6" r="1.2" fill="#dc4b57"/>
<circle cx="339.9" cy="300.6" r="1.7" fill="#dc4b57"/>
<circle cx="309.2" cy="303.5" r="1.5" fill="#dc4b57"/>
<circle cx="294.1" cy="298.2" r="1.5" fill="#dc4b57"/>
<circle cx="323.7" cy="303.2" r="1.3" fill="#dc4b57"/>
<circle cx="322.6" cy="300.5" r="1.5" fill="#dc4b57"/>
<circle cx="293.0" cy="300.0" r="1.5" fill="#dc4b57"/>
<circle cx="341.4" cy="299.3" r="1.5" fill="#dc4b57"/>
<circle cx="333.9" cy="303.2" r="1.3" fill="#dc4b57"/>
<circle cx="291.9" cy="304.4" r="1.8" fill="#dc4b57"/>
<circle cx="313.9" cy="298.7" r="1.8" fill="#dc4b57"/>
<circle cx="308.0" cy="303.7" r="1.6" fill="#dc4b57"/>
<line x1="345" y1="300.6" x2="372" y2="300.6" stroke="#8c8c8c" stroke-width="1.1"/>
<rect x="371.5" y="299.3" width="4" height="2.6" fill="#cfe3ea"/>
<rect x="375.2" y="296.2" width="8.6" height="9.3" fill="#a0a0a3"/>
<rect x="383.8" y="294.9" width="40.1" height="11.6" fill="#f2dfe2" stroke="#c9dde0" stroke-width="0.6"/>
<rect x="384.3" y="295.6" width="39.2" height="10.4" fill="#e9a0a6"/>
<circle cx="386.9" cy="297.3" r="2.2" fill="#df5661"/>
<circle cx="388.2" cy="300.8" r="2.2" fill="#df5661"/>
<circle cx="386.9" cy="303.9" r="2.0" fill="#df5661"/>
<circle cx="390.4" cy="297.6" r="2.1" fill="#df5661"/>
<circle cx="392.1" cy="300.7" r="2.2" fill="#df5661"/>
<circle cx="390.9" cy="303.8" r="2.1" fill="#df5661"/>
<circle cx="394.8" cy="297.2" r="2.2" fill="#df5661"/>
<circle cx="396.0" cy="301.0" r="2.1" fill="#df5661"/>
<circle cx="394.6" cy="304.0" r="2.1" fill="#df5661"/>
<circle cx="398.5" cy="297.5" r="2.2" fill="#df5661"/>
<circle cx="400.3" cy="300.9" r="1.9" fill="#df5661"/>
<circle cx="398.6" cy="304.2" r="2.0" fill="#df5661"/>
<circle cx="402.7" cy="297.8" r="2.1" fill="#df5661"/>
<circle cx="404.0" cy="300.9" r="1.9" fill="#df5661"/>
<circle cx="402.0" cy="304.1" r="1.9" fill="#df5661"/>
<circle cx="406.3" cy="297.6" r="1.9" fill="#df5661"/>
<circle cx="408.4" cy="300.6" r="2.2" fill="#df5661"/>
<circle cx="406.6" cy="304.2" r="1.9" fill="#df5661"/>
<circle cx="410.3" cy="297.5" r="2.3" fill="#df5661"/>
<circle cx="411.8" cy="301.2" r="2.3" fill="#df5661"/>
<circle cx="410.5" cy="304.5" r="2.0" fill="#df5661"/>
<circle cx="414.7" cy="297.6" r="2.3" fill="#df5661"/>
<circle cx="416.6" cy="300.6" r="2.2" fill="#df5661"/>
<circle cx="414.7" cy="303.9" r="2.0" fill="#df5661"/>
<circle cx="418.5" cy="297.3" r="2.3" fill="#df5661"/>
<circle cx="419.9" cy="301.2" r="2.0" fill="#df5661"/>
<circle cx="418.2" cy="304.5" r="2.0" fill="#df5661"/>
<circle cx="421.9" cy="297.6" r="2.0" fill="#df5661"/>
<circle cx="421.8" cy="304.5" r="2.2" fill="#df5661"/>
<g fill="none" stroke="#8a8a8a" stroke-width="0.7">
<path d="M234 286.6 H258.2 L264.3 292.8"/>
<path d="M234 298.4 H262.1 L272.1 307.7"/>
<path d="M234 311.5 H277.8 L280.8 314.5"/>
<path d="M234 327 H272.1 L278.6 319.7"/>
</g>
<path d="M369.5 410.2 C380 410.2 385.2 417 385.2 425.4 L385.4 431 C387.5 430.5 388.3 433 387.3 436 C386.6 438 385.5 438.3 384.2 438.5 C383 443 381.5 446 380.4 447.5 L380.6 455 C386 459.5 396 462.5 402.2 464.8 C406 466 409 468 410.5 470.5 C413 474 414 479 414.6 486 C416 500 418 510 420.3 520 C423 526 427 536 429.2 544.8 C430.5 548 432 553 433.7 559.6 L435.2 562.6 L442.1 565.5 C445 568 447 572 449 577.4 C448 578.5 445 577 442.1 576.4 L442.1 583.4 L427.3 585.8 C426 580 424.5 572 424.3 564.6 L421.3 561.6 L409.4 539.8 L402.5 525 C402 520 401.5 514 401 510.5 L401 549.5 C402 553 403.5 556 403.2 560 L403.2 584 L338.6 584 L338.6 560 C338.3 556 339.6 553 340.6 549.5 L339.8 510.5 C338.5 514 337 520 336.5 525 L329.6 539.8 L317.7 561.6 L314.7 564.6 C314.5 572 313 580 311.7 585.8 L296.9 583.4 L296.9 576.4 C294 577 291 578.5 290 577.4 C292 572 294 568 296.9 565.5 L303.8 562.6 L305.3 559.6 C307 553 308.5 548 309.8 544.8 C312 536 316 526 318.7 520 C321 510 323 500 324.5 486 C325 479 326 474 328.5 470.5 C330 468 333 466 337 464.8 C343 462.5 353 459.5 358.4 455 L358.6 447.5 C357.5 446 356 443 354.8 438.5 C353.5 438.3 352.4 438 351.7 436 C350.7 433 351.5 430.5 353.6 431 L353.8 425.4 C353.8 417 359 410.2 369.5 410.2 Z" fill="#f9dccc" stroke="#f0c7ae" stroke-width="0.7"/>
<g fill="none" stroke="#edc3aa" stroke-width="0.45">
<path d="M358.5 441 Q360 447 365 450 Q369.5 452.8 374 450 Q379 447 380.5 441"/>
<path d="M357 423 Q358 416 369.5 414.5 Q381 416 382 423"/>
<path d="M362 454 Q365 462 368 470"/><path d="M377 454 Q374 462 371 470"/>
<path d="M335 468 Q342 474 350 478 Q360 483 369.5 485 Q379 483 389 478 Q397 474 404 468"/>
<path d="M331 485 Q345 490 355 489 Q362 489 369.5 492 Q377 489 384 489 Q394 490 408 485"/>
<path d="M332 487 Q330 500 333 515"/><path d="M407 487 Q409 500 406 515"/>
<path d="M327 482 Q325 500 323 512 Q318 530 311 552"/><path d="M412 482 Q414 500 416 512 Q421 530 428 552"/>
<path d="M345 500 Q350 510 352 525"/><path d="M394 500 Q389 510 387 525"/>
<path d="M352 568 Q358 574 362 583"/><path d="M387 568 Q381 574 377 583"/>
<path d="M342 556 Q346 552 350 553"/><path d="M399 556 Q395 552 391 553"/>
</g>
<path d="M369.3 508.6 C375.5 508 381.2 511 381.6 519.5 C382 529 380.6 538 381.1 548 C381.6 557 378 565.3 369.3 565.5 C360.6 565.3 356.9 557 357.4 548 C357.9 538 356.5 529 357 519.5 C357.4 511 363 508 369.3 508.6 Z" fill="#efc3c3" stroke="#c4e3e1" stroke-width="1.4"/>
<g fill="#eaa9ad">
<rect x="358.0" y="510.2" width="10.5" height="11.6" rx="3.5" fill-opacity="0.55"/>
<rect x="370.0" y="510.2" width="10.5" height="11.6" rx="3.5" fill-opacity="0.55"/>
<rect x="358.0" y="522.7" width="10.5" height="12.6" rx="3.5" fill-opacity="0.55"/>
<rect x="370.0" y="522.7" width="10.5" height="12.6" rx="3.5" fill-opacity="0.55"/>
<rect x="358.0" y="536.2" width="10.5" height="13.6" rx="3.5" fill-opacity="0.55"/>
<rect x="370.0" y="536.2" width="10.5" height="13.6" rx="3.5" fill-opacity="0.55"/>
<rect x="359.0" y="550.7" width="9.5" height="13.1" rx="3.5" fill-opacity="0.55"/>
<rect x="370.0" y="550.7" width="9.5" height="13.1" rx="3.5" fill-opacity="0.55"/>
</g>
<g stroke="#f6dede" stroke-width="0.9" fill="none">
<path d="M369.3 509 V565"/><path d="M357.5 522.5 Q363 521 369.3 522.7 Q375 521 381 522.5"/><path d="M357.3 536 Q363 534.5 369.3 536.2 Q375 534.5 381.3 536"/><path d="M357.6 550.5 Q363 549 369.3 550.7 Q375 549 381 550.5"/>
</g>
<rect x="367.3" y="539.6" width="22.8" height="13.8" fill="#f7dfd6" fill-opacity="0.35" stroke="#cf3a3a" stroke-width="1" stroke-dasharray="1.1 0.7"/>
<line x1="381" y1="544.5" x2="381" y2="548" stroke="#5a78c8" stroke-width="0.8"/>
<g stroke="#111" stroke-width="1" fill="none">
<path d="M517.4 212.5 V284.8 H774"/>
<path d="M514.5 282.7 H517.4"/>
<path d="M514.5 271.1 H517.4"/>
<path d="M514.5 259.4 H517.4"/>
<path d="M514.5 247.8 H517.4"/>
<path d="M514.5 236.2 H517.4"/>
<path d="M514.5 224.5 H517.4"/>
<path d="M514.5 212.9 H517.4"/>
<path d="M518.7 284.8 V287.3"/>
<path d="M529.1 284.8 V287.3"/>
<path d="M539.4 284.8 V287.3"/>
<path d="M549.8 284.8 V287.3"/>
<path d="M560.1 284.8 V287.3"/>
<path d="M570.5 284.8 V287.3"/>
<path d="M580.8 284.8 V287.3"/>
<path d="M591.2 284.8 V287.3"/>
<path d="M601.5 284.8 V287.3"/>
<path d="M611.9 284.8 V287.3"/>
<path d="M622.2 284.8 V287.3"/>
<path d="M632.6 284.8 V287.3"/>
<path d="M642.9 284.8 V287.3"/>
<path d="M653.2 284.8 V287.3"/>
<path d="M663.6 284.8 V287.3"/>
<path d="M674.0 284.8 V287.3"/>
<path d="M684.3 284.8 V287.3"/>
<path d="M694.7 284.8 V287.3"/>
<path d="M705.0 284.8 V287.3"/>
<path d="M715.4 284.8 V287.3"/>
<path d="M725.7 284.8 V287.3"/>
<path d="M736.1 284.8 V287.3"/>
<path d="M746.4 284.8 V287.3"/>
<path d="M756.8 284.8 V287.3"/>
<path d="M767.1 284.8 V287.3"/>
</g>
<g font-size="5.8" fill="#111" stroke="#111" stroke-width="0.22" text-anchor="end">
<text x="513.5" y="284.7">0</text>
<text x="513.5" y="273.1">10</text>
<text x="513.5" y="261.4">20</text>
<text x="513.5" y="249.8">30</text>
<text x="513.5" y="238.2">40</text>
<text x="513.5" y="226.5">50</text>
<text x="513.5" y="214.9">60</text>
</g>
<g font-size="5.8" fill="#111" stroke="#111" stroke-width="0.22" text-anchor="middle">
<text x="518.5" y="293.8">Baseline</text>
<text x="539.4" y="293.8">30</text>
<text x="560.1" y="293.8">60</text>
<text x="580.8" y="293.8">90</text>
<text x="601.5" y="293.8">120</text>
<text x="622.2" y="293.8">150</text>
<text x="642.9" y="293.8">180</text>
<text x="663.6" y="293.8">210</text>
<text x="684.3" y="293.8">240</text>
<text x="705.0" y="293.8">270</text>
<text x="725.7" y="293.8">300</text>
<text x="746.4" y="293.8">330</text>
<text x="767.1" y="293.8">360</text>
<text x="648.5" y="303">Days post transplantation</text>
</g>
<text transform="translate(503.3 248.5) rotate(-90)" font-size="5.8" fill="#111" stroke="#111" stroke-width="0.22" text-anchor="middle">Insulin requirement (Units/day)</text>
<path d="M518.8 219.8 L520.2 229.7 L521.8 260.5 L522.8 257.5 L524.1 246 L524.7 257.5 L525.7 251.5 L526.7 257.5 L527.9 250.6 L529.7 242.6 L531.3 233.3 L532.7 244.6 L533.7 240.6 L534.7 246.6 L535.4 241.6 L536.6 250.6 L538.2 249.6 L539 257.5 L540.6 254.5 L541.6 252.5 L542.6 263.4 L544.2 257.5 L545.6 260.5 L546.9 261.5 L548.5 265.4 L550.5 268.4 L552.5 273 L554.1 270.4 L555.5 274.3 L557.5 275 L558.8 274.3 L560.4 276.3 L561.4 275 L562.4 278.9 L564.4 278.3 L566.4 280.3 L568.8 281.9 L570.3 281.3 L572.3 282.3 L770.8 282.3" fill="none" stroke="#3a72b8" stroke-width="1.35" stroke-linejoin="round"/>
<path d="M517.2 219 H521.2 M517.2 221.2 H521.2" stroke="#3a72b8" stroke-width="0.8"/>
<g stroke="#111" stroke-width="1.1" fill="none">
<path d="M577.6 392.5 V475.2 H690.8"/>
<path d="M574.8 475.2 H577.6"/>
<path d="M574.8 454.6 H577.6"/>
<path d="M574.8 434.0 H577.6"/>
<path d="M574.8 413.4 H577.6"/>
<path d="M574.8 392.8 H577.6"/>
</g>
<rect x="583.6" y="401.8" width="12.4" height="72.9" fill="#8c8d91"/>
<rect x="598" y="423.2" width="12.0" height="51.5" fill="#3e74b8"/>
<rect x="612.8" y="446.9" width="12.5" height="27.8" fill="#3e74b8"/>
<rect x="628" y="461.3" width="12.5" height="13.4" fill="#3e74b8"/>
<rect x="642.6" y="455.8" width="12.3" height="18.9" fill="#3e74b8"/>
<rect x="657.7" y="454" width="12.2" height="20.7" fill="#3e74b8"/>
<rect x="672.3" y="459.6" width="12.0" height="15.1" fill="#3e74b8"/>
<g stroke="#111" stroke-width="0.8">
<line x1="589.2" y1="475.5" x2="589.2" y2="478"/>
<line x1="604.1" y1="475.5" x2="604.1" y2="478"/>
<line x1="618.8" y1="475.5" x2="618.8" y2="478"/>
<line x1="633.9" y1="475.5" x2="633.9" y2="478"/>
<line x1="648.7" y1="475.5" x2="648.7" y2="478"/>
<line x1="663.8" y1="475.5" x2="663.8" y2="478"/>
<line x1="678.7" y1="475.5" x2="678.7" y2="478"/>
</g>
<g font-size="7" font-weight="bold" fill="#111" text-anchor="end">
<text x="573" y="477.7">4</text>
<text x="573" y="457.1">5</text>
<text x="573" y="436.5">6</text>
<text x="573" y="415.9">7</text>
<text x="573" y="395.3">8</text>
</g>
<text transform="translate(565.2 433.6) rotate(-90)" font-size="6.5" font-weight="bold" fill="#111" text-anchor="middle">HbA1c (%)</text>
<g font-size="7" fill="#111" stroke="#111" stroke-width="0.2" text-anchor="end">
<text transform="translate(590.4000000000001 483.5) rotate(-45)">Baseline</text>
<text transform="translate(605.3000000000001 483.5) rotate(-45)">Day 75</text>
<text transform="translate(620.0 483.5) rotate(-45)">Day 120</text>
<text transform="translate(635.1 483.5) rotate(-45)">Day 180</text>
<text transform="translate(649.9000000000001 483.5) rotate(-45)">Day 240</text>
<text transform="translate(665.0 483.5) rotate(-45)">Day 300</text>
<text transform="translate(679.9000000000001 483.5) rotate(-45)">Day 365</text>
</g>
<g stroke="#3a3a3a" stroke-width="1.25" fill="none">
<path d="M543.5 608.5 V693.5 H751"/>
<path d="M540.5 693.5 H543.5"/>
<path d="M540.5 676.6 H543.5"/>
<path d="M540.5 659.7 H543.5"/>
<path d="M540.5 642.7 H543.5"/>
<path d="M540.5 625.8 H543.5"/>
<path d="M540.5 608.9 H543.5"/>
</g>
<rect x="549.2" y="689.3" width="12.4" height="4.2" fill="#7a1d24" stroke="#111" stroke-width="0.9"/>
<rect x="549.2" y="652.9" width="12.4" height="36.4" fill="#5a9b4c" stroke="#111" stroke-width="0.9"/>
<rect x="549.2" y="625.0" width="12.4" height="27.9" fill="#dcae6a" stroke="#111" stroke-width="0.9"/>
<rect x="549.2" y="608.9" width="12.4" height="16.1" fill="#e9a07f" stroke="#111" stroke-width="0.9"/>
<rect x="564.4" y="691.8" width="12.4" height="1.7" fill="#7a1d24" stroke="#111" stroke-width="0.9"/>
<rect x="564.4" y="652.9" width="12.4" height="38.9" fill="#5a9b4c" stroke="#111" stroke-width="0.9"/>
<rect x="564.4" y="619.9" width="12.4" height="33.0" fill="#dcae6a" stroke="#111" stroke-width="0.9"/>
<rect x="564.4" y="608.9" width="12.4" height="11.0" fill="#e9a07f" stroke="#111" stroke-width="0.9"/>
<rect x="579.6" y="692.7" width="12.4" height="0.8" fill="#7a1d24" stroke="#111" stroke-width="0.9"/>
<rect x="579.6" y="618.2" width="12.4" height="74.4" fill="#5a9b4c" stroke="#111" stroke-width="0.9"/>
<rect x="579.6" y="608.9" width="12.4" height="9.3" fill="#dcae6a" stroke="#111" stroke-width="0.9"/>
<rect x="594.7" y="685.0" width="12.4" height="8.5" fill="#7a1d24" stroke="#111" stroke-width="0.9"/>
<rect x="594.7" y="609.7" width="12.4" height="75.3" fill="#5a9b4c" stroke="#111" stroke-width="0.9"/>
<rect x="594.7" y="608.9" width="12.4" height="0.8" fill="#e9a07f" stroke="#111" stroke-width="0.9"/>
<rect x="609.9" y="691.0" width="12.4" height="2.5" fill="#7a1d24" stroke="#111" stroke-width="0.9"/>
<rect x="609.9" y="608.9" width="12.4" height="82.1" fill="#5a9b4c" stroke="#111" stroke-width="0.9"/>
<rect x="625.1" y="693.1" width="12.4" height="0.4" fill="#7a1d24" stroke="#111" stroke-width="0.9"/>
<rect x="625.1" y="608.9" width="12.4" height="84.2" fill="#5a9b4c" stroke="#111" stroke-width="0.9"/>
<rect x="640.3" y="693.1" width="12.4" height="0.4" fill="#7a1d24" stroke="#111" stroke-width="0.9"/>
<rect x="640.3" y="608.9" width="12.4" height="84.2" fill="#5a9b4c" stroke="#111" stroke-width="0.9"/>
<rect x="655.5" y="693.1" width="12.4" height="0.4" fill="#7a1d24" stroke="#111" stroke-width="0.9"/>
<rect x="655.5" y="608.9" width="12.4" height="84.2" fill="#5a9b4c" stroke="#111" stroke-width="0.9"/>
<rect x="670.6" y="693.1" width="12.4" height="0.4" fill="#7a1d24" stroke="#111" stroke-width="0.9"/>
<rect x="670.6" y="608.9" width="12.4" height="84.2" fill="#5a9b4c" stroke="#111" stroke-width="0.9"/>
<rect x="685.8" y="693.1" width="12.4" height="0.4" fill="#7a1d24" stroke="#111" stroke-width="0.9"/>
<rect x="685.8" y="608.9" width="12.4" height="84.2" fill="#5a9b4c" stroke="#111" stroke-width="0.9"/>
<rect x="701.0" y="693.1" width="12.4" height="0.4" fill="#7a1d24" stroke="#111" stroke-width="0.9"/>
<rect x="701.0" y="608.9" width="12.4" height="84.2" fill="#5a9b4c" stroke="#111" stroke-width="0.9"/>
<rect x="716.2" y="693.1" width="12.4" height="0.4" fill="#7a1d24" stroke="#111" stroke-width="0.9"/>
<rect x="716.2" y="608.9" width="12.4" height="84.2" fill="#5a9b4c" stroke="#111" stroke-width="0.9"/>
<rect x="731.4" y="693.1" width="12.4" height="0.4" fill="#7a1d24" stroke="#111" stroke-width="0.9"/>
<rect x="731.4" y="608.9" width="12.4" height="84.2" fill="#5a9b4c" stroke="#111" stroke-width="0.9"/>
<g stroke="#111" stroke-width="0.8">
<line x1="555.4" y1="693.5" x2="555.4" y2="696.5"/>
<line x1="570.6" y1="693.5" x2="570.6" y2="696.5"/>
<line x1="585.8" y1="693.5" x2="585.8" y2="696.5"/>
<line x1="600.9" y1="693.5" x2="600.9" y2="696.5"/>
<line x1="616.1" y1="693.5" x2="616.1" y2="696.5"/>
<line x1="631.3" y1="693.5" x2="631.3" y2="696.5"/>
<line x1="646.5" y1="693.5" x2="646.5" y2="696.5"/>
<line x1="661.7" y1="693.5" x2="661.7" y2="696.5"/>
<line x1="676.8" y1="693.5" x2="676.8" y2="696.5"/>
<line x1="692.0" y1="693.5" x2="692.0" y2="696.5"/>
<line x1="707.2" y1="693.5" x2="707.2" y2="696.5"/>
<line x1="722.4" y1="693.5" x2="722.4" y2="696.5"/>
<line x1="737.6" y1="693.5" x2="737.6" y2="696.5"/>
</g>
<g font-size="7" fill="#111" stroke="#111" stroke-width="0.2" text-anchor="end">
<text x="538" y="696.0">0</text>
<text x="538" y="679.1">20</text>
<text x="538" y="662.2">40</text>
<text x="538" y="645.2">60</text>
<text x="538" y="628.3">80</text>
<text x="538" y="611.4">100</text>
</g>
<text transform="translate(522.5 650) rotate(-90)" font-size="7" fill="#111" stroke="#111" stroke-width="0.2" text-anchor="middle">Percentage (%)</text>
<g font-size="7" fill="#111" stroke="#111" stroke-width="0.2" text-anchor="middle">
<text x="570.6" y="705">1</text>
<text x="585.8" y="705">2</text>
<text x="600.9" y="705">3</text>
<text x="616.1" y="705">4</text>
<text x="631.3" y="705">5</text>
<text x="646.5" y="705">6</text>
<text x="661.7" y="705">7</text>
<text x="676.8" y="705">8</text>
<text x="692.0" y="705">9</text>
<text x="707.2" y="705">10</text>
<text x="722.4" y="705">11</text>
<text x="737.6" y="705">12</text>
<text x="646.5" y="716.5">Months post transplantation</text>
</g>
<text transform="translate(559 700.5) rotate(-45)" font-size="7" fill="#111" stroke="#111" stroke-width="0.2" text-anchor="end">Baseline</text>
</svg></body></html>
